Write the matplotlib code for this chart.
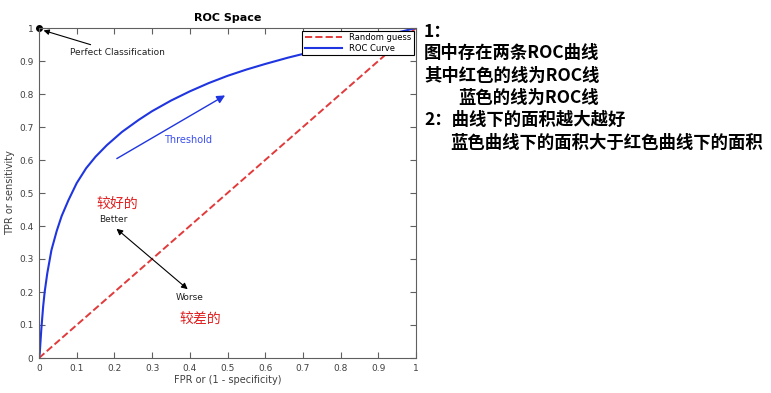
import matplotlib.pyplot as plt
import numpy as np

plt.rcParams['font.family'] = ['DejaVu Sans']

# ROC curve
fpr = [0, 0.002, 0.006, 0.011, 0.015, 0.022, 0.033, 0.047, 0.06, 0.078, 0.1,
       0.125, 0.15, 0.18, 0.22, 0.265, 0.3, 0.35, 0.4, 0.45, 0.5, 0.55, 0.6,
       0.66, 0.72, 0.8, 0.9, 1.0]
tpr = [0, 0.015, 0.085, 0.156, 0.2, 0.257, 0.327, 0.385, 0.43, 0.478, 0.53,
       0.575, 0.61, 0.645, 0.685, 0.722, 0.748, 0.78, 0.808, 0.833, 0.855,
       0.874, 0.891, 0.91, 0.927, 0.947, 0.972, 1.0]
guess = [0, 1]
ticks = [0, 0.1, 0.2, 0.3, 0.4, 0.5, 0.6, 0.7, 0.8, 0.9, 1]
tick_labels = ['0', '0.1', '0.2', '0.3', '0.4', '0.5', '0.6', '0.7', '0.8', '0.9', '1']

notes = ['1：', '图中存在两条ROC曲线', '其中红色的线为ROC线', '蓝色的线为ROC线',
         '2：曲线下的面积越大越好', '蓝色曲线下的面积大于红色曲线下的面积']
note_x = [424, 424, 424, 458, 424, 450]
note_y = [32, 53, 75.5, 98, 120, 143]

fig = plt.figure(figsize=(7.71, 3.93), dpi=100)
ax = fig.add_axes([39 / 771, 1 - 358 / 393, 377 / 771, 330 / 393])

ax.plot(guess, guess, '--', color='#e23a3a', lw=1.4, label='Random guess')
ax.plot(fpr, tpr, '-', color='#1f35e0', lw=1.5, label='ROC Curve')
ax.plot([0], [1], 'o', color='black', ms=4, clip_on=False)

ax.set_xlim(0, 1)
ax.set_ylim(0, 1)
ax.set_xticks(ticks)
ax.set_xticklabels(tick_labels)
ax.set_yticks(ticks)
ax.set_yticklabels(tick_labels)
ax.tick_params(direction='in', length=4, width=0.8, top=True, right=True,
               labelsize=6.5, labelcolor='#404040', color='#606060', pad=4)
for s in ax.spines.values():
    s.set_color('#606060')
    s.set_linewidth(0.8)

ax.set_title('ROC Space', fontsize=8, fontweight='bold', pad=5)
ax.set_xlabel('FPR or (1 - specificity)', fontsize=7, color='#404040', labelpad=2)
ax.set_ylabel('TPR or sensitivity', fontsize=7, color='#404040', labelpad=3)

leg = ax.legend(loc='upper right', fontsize=6, fancybox=False, edgecolor='black',
                framealpha=1, borderaxespad=0.3, handlelength=4.5,
                borderpad=0.3, labelspacing=0.2)
leg.get_frame().set_linewidth(0.8)

# annotations
ax.annotate('Perfect Classification', xy=(0.005, 0.995), xytext=(0.082, 0.925),
            fontsize=6.5, color='#202020', va='center',
            arrowprops=dict(arrowstyle='-|>', color='black', lw=0.8, mutation_scale=8))
ax.annotate('', xy=(0.5, 0.8), xytext=(0.2, 0.6),
            arrowprops=dict(arrowstyle='-|>', color='#1f35e0', lw=1.0, mutation_scale=12))
ax.text(0.394, 0.662, 'Threshold', color='#3a4ef0', fontsize=7, ha='center', va='center')
ax.annotate('', xy=(0.2, 0.397), xytext=(0.40, 0.203),
            arrowprops=dict(arrowstyle='<|-|>', color='black', lw=0.8, mutation_scale=9))
ax.text(0.198, 0.42, 'Better', fontsize=6.5, ha='center', va='center', color='#202020')
ax.text(0.40, 0.182, 'Worse', fontsize=6.5, ha='center', va='center', color='#202020')
ax.text(0.207, 0.466, '较好的', fontsize=10, ha='center', va='center', color='#e02020',
        family=['Noto Sans CJK SC', 'DejaVu Sans'])
ax.text(0.427, 0.118, '较差的', fontsize=10, ha='center', va='center', color='#e02020',
        family=['Noto Sans CJK SC', 'DejaVu Sans'])

for t, x, y in zip(notes, note_x, note_y):
    fig.text(x / 771, 1 - y / 393, t, fontsize=12.5, fontweight='bold', ha='left', va='center',
             family=['Noto Sans CJK SC', 'DejaVu Sans'])

fig.savefig('out.png', dpi=100)
